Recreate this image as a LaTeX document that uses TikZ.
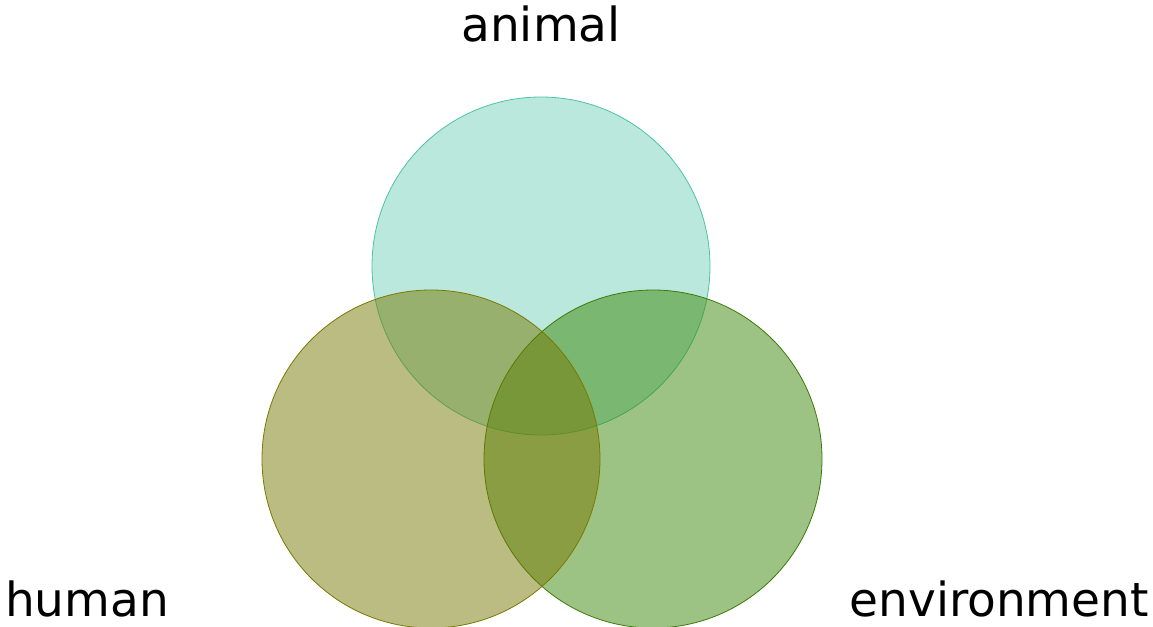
\documentclass[tikz,border=0pt]{standalone}
\usepackage{fontspec}
\setmainfont{DejaVu Sans}
\definecolor{anifill}{RGB}{117,209,185}
\definecolor{anidraw}{RGB}{77,196,160}
\definecolor{humfill}{RGB}{119,121,3}
\definecolor{humdraw}{RGB}{122,122,0}
\definecolor{envfill}{RGB}{59,135,9}
\definecolor{envdraw}{RGB}{60,122,10}
\begin{document}
\begin{tikzpicture}[x=1pt,y=-1pt,
  setcircle/.style={circle,minimum size=338pt,inner sep=0pt,fill opacity=0.5,line width=0.8pt},
  label/.style={font=\fontsize{47}{56}\selectfont,anchor=base,inner sep=0pt}]
\useasboundingbox (0,0) rectangle (1153,626);
\node[setcircle,fill=anifill,draw=anidraw] (animalc) at (541,266) {};
\node[setcircle,fill=envfill,draw=envdraw] (envc) at (653,459) {};
\node[setcircle,fill=humfill,draw=humdraw] (humanc) at (431,459) {};
\node[label] (animalt) at (541,42) {animal};
\node[label,anchor=base west] (humant) at (5,616) {human};
\node[label,anchor=base east] (envt) at (1149,616) {environment};
\end{tikzpicture}
\end{document}
